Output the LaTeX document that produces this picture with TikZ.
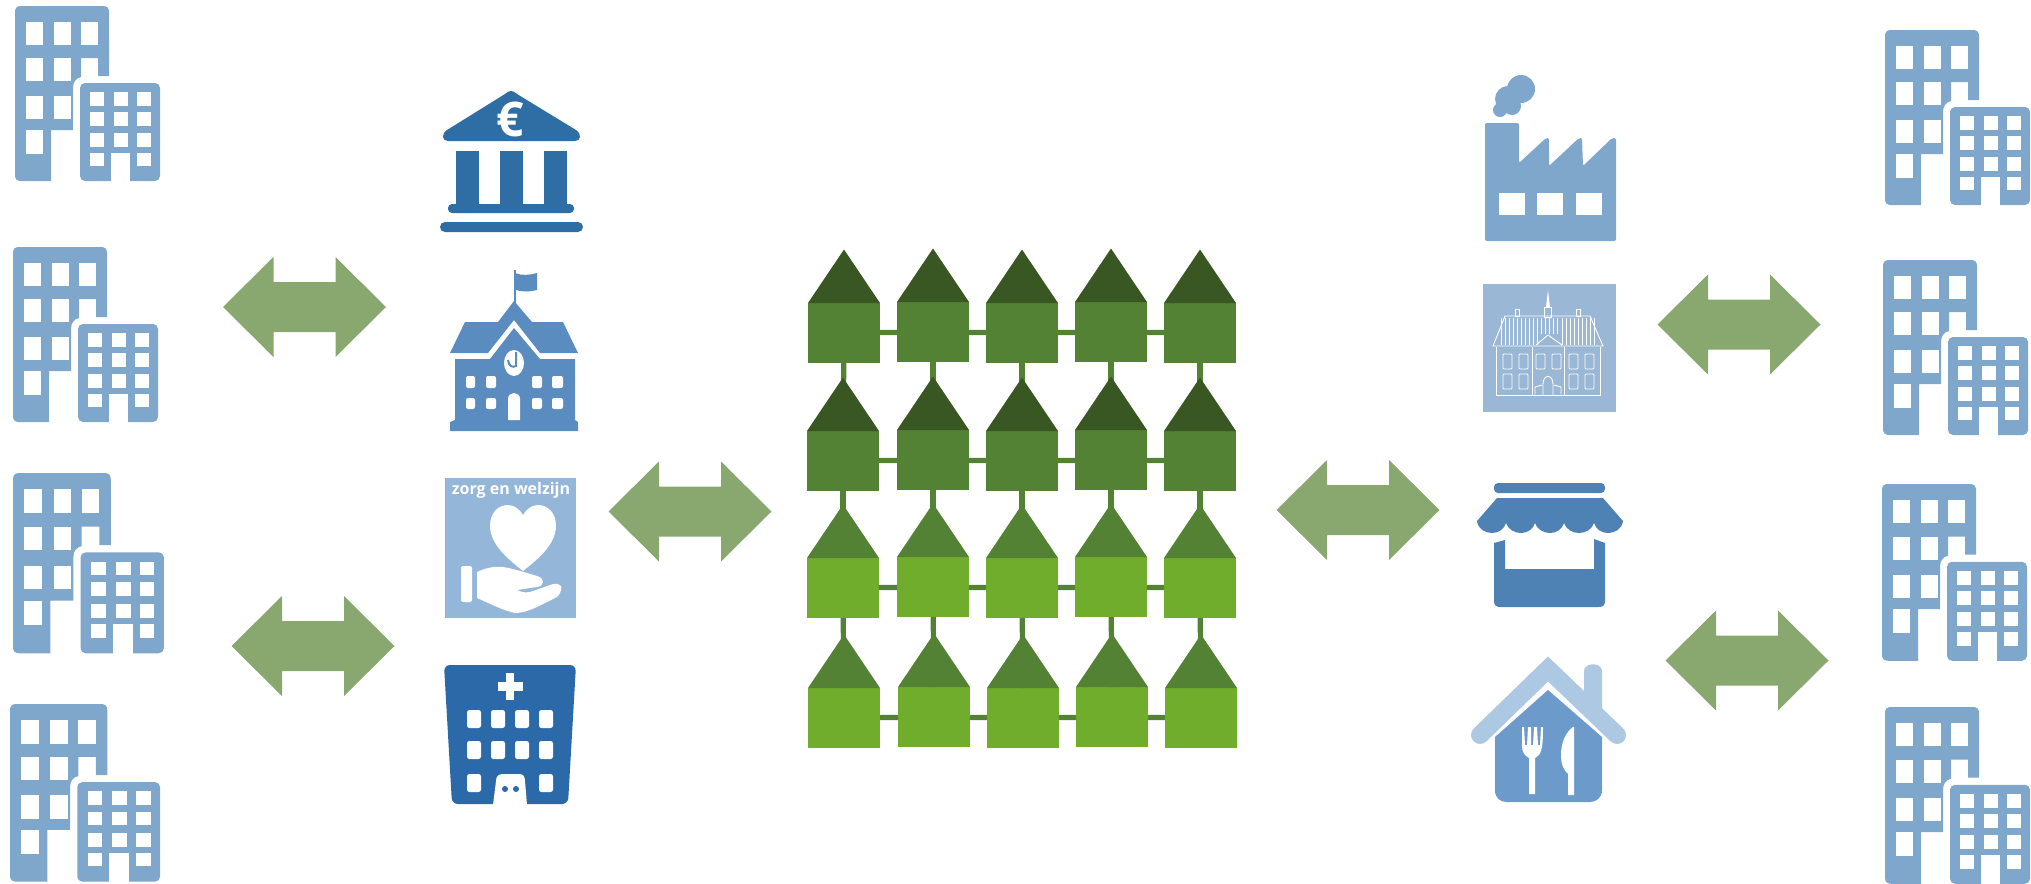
\documentclass[tikz,border=0pt]{standalone}
\usepackage{fontspec}
\setmainfont{Open Sans}
\definecolor{bldg}{HTML}{7FA6CB}
\definecolor{bank}{HTML}{2F6EA5}
\definecolor{school}{HTML}{5B8CBF}
\definecolor{zorg}{HTML}{94B6D8}
\definecolor{hosp}{HTML}{2B69A8}
\definecolor{hall}{HTML}{9AB7D5}
\definecolor{shop}{HTML}{4F82B4}
\definecolor{roofl}{HTML}{ADC8E2}
\definecolor{rest}{HTML}{6C9BCB}
\definecolor{arrowg}{HTML}{88A870}
\definecolor{bodydark}{HTML}{548235}
\definecolor{bodylight}{HTML}{71AD2D}
\definecolor{roofdark}{HTML}{385723}
\tikzset{
  bldgpic/.pic={
    \fill[bldg] (36,175) -- (6,175) .. controls (2,175) and (0,173) .. (0,169) -- (0,6)
      .. controls (0,2) and (2,0) .. (6,0) -- (88,0) .. controls (92,0) and (94,2) .. (94,6)
      -- (94,70) -- (83,70) -- (83,52) -- (66,52) -- (66,71)
      .. controls (61,72) and (58,76) .. (58,82) -- (58,124) -- (36,124) -- cycle;
    \foreach \wy in {16,52,90} {\fill[white] (11,\wy) rectangle (28,\wy+23);}
    \foreach \wy in {16,52} {\fill[white] (39,\wy) rectangle (56,\wy+23);}
    \fill[white] (39,90) rectangle (56,113);
    \fill[white] (66,16) rectangle (83,39);
    \fill[white] (11,124) rectangle (28,148);
    \fill[bldg,rounded corners=2.5pt] (65,77) rectangle (145,175);
    \foreach \wx in {75,99,122} \foreach \wy in {86,106,127} {\fill[white] (\wx,\wy) rectangle (\wx+14,\wy+13.5);}
    \fill[white] (75,147) rectangle (89,160);
    \fill[white] (122,147) rectangle (136,160);
    \fill[white] (96,147) rectangle (115,176);
  },
  dbl/.pic={
    \fill[arrowg] (-81.5,0) -- (-31,-50) -- (-31,-25) -- (31,-25) -- (31,-50) -- (81.5,0)
      -- (31,50) -- (31,25) -- (-31,25) -- (-31,50) -- cycle;
  },
  hbody/.style={minimum width=36pt,minimum height=30pt,inner sep=0pt,outer sep=0pt,draw=none},
  hlink/.style={draw=bodydark,line width=2.6pt},
  hallline/.style={draw=white,line width=0.45pt},
}
\def\houses{%
h11/808/303/bodydark/roofdark,h12/897/302/bodydark/roofdark,h13/986/303/bodydark/roofdark,h14/1075/302/bodydark/roofdark,h15/1164/303/bodydark/roofdark,%
h21/807/431/bodydark/roofdark,h22/897/430/bodydark/roofdark,h23/986/431/bodydark/roofdark,h24/1075/430/bodydark/roofdark,h25/1164/431/bodydark/roofdark,%
h31/807/558/bodylight/bodydark,h32/897/557/bodylight/bodydark,h33/986/558/bodylight/bodydark,h34/1075/557/bodylight/bodydark,h35/1164/558/bodylight/bodydark,%
h41/808/688/bodylight/bodydark,h42/898/687/bodylight/bodydark,h43/987/688/bodylight/bodydark,h44/1076/687/bodylight/bodydark,h45/1165/688/bodylight/bodydark}
\begin{document}
\begin{tikzpicture}[x=0.5pt,y=-0.5pt]
\useasboundingbox (0,0) rectangle (2031,884);
% buildings
\pic at (15,6) {bldgpic};
\pic at (13,247) {bldgpic};
\pic[xscale=1.04,yscale=1.03] at (13,473) {bldgpic};
\pic[xscale=1.035,yscale=1.015] at (10,704) {bldgpic};
\pic at (1885,30) {bldgpic};
\pic at (1883,260) {bldgpic};
\pic[yscale=1.01] at (1882,484) {bldgpic};
\pic[yscale=1.01] at (1885,707) {bldgpic};
% arrows
\pic at (304.5,307) {dbl};
\pic at (313,646) {dbl};
\pic at (690,511.5) {dbl};
\pic at (1358,510) {dbl};
\pic at (1739,324.5) {dbl};
\pic at (1747,660.5) {dbl};
% houses
\foreach \n/\hx/\hy/\bd/\rf in \houses {
  \node[hbody,fill=\bd] (\n) at (\hx+36,\hy+30) {};
}
\foreach \rw in {1,2,3,4} \foreach \ca/\cb in {1/2,2/3,3/4,4/5} {
  \draw[hlink] (h\rw\ca) -- (h\rw\cb);
}
\foreach \cl in {1,2,3,4,5} \foreach \ra/\rb in {1/2,2/3,3/4} {
  \draw[hlink] (h\ra\cl) -- (h\rb\cl);
}
\foreach \n/\hx/\hy/\bd/\rf in \houses {
  \fill[\rf] (\hx,\hy) -- (\hx+72,\hy) -- (\hx+36,\hy-53.5) -- cycle;
}
% bank
\fill[bank] (511,91) .. controls (513,91) and (515,92) .. (517,94) -- (576,130)
  .. controls (582,134) and (581,141) .. (575,141) -- (448,141)
  .. controls (442,141) and (441,134) .. (447,130) -- (505,94) .. controls (507,92) and (509,91) .. (511,91) -- cycle;
\node[text=white,font=\bfseries\fontsize{24pt}{24pt}\selectfont,inner sep=0pt] (euro) at (510,119) {€};
\foreach \cx in {456,500,544} {\fill[bank] (\cx,151) rectangle (\cx+23,206);}
\fill[bank,rounded corners=2pt] (448,204) rectangle (574,213);
\fill[bank,rounded corners=2.5pt] (440,222) rectangle (583,232);
% school
\draw[school,line width=1.4pt] (515,270) -- (515,305);
\fill[school] (515,273) .. controls (522,276) and (530,275) .. (537,273) -- (537,290) .. controls (530,292) and (522,292) .. (516,290) -- cycle;
\fill[school] (514,301) -- (532,322) -- (563,322) -- (578,353) -- (540,353) -- (514,320) -- (488,353) -- (450,353) -- (465,322) -- (498,322) -- cycle;
\fill[school] (455,359) -- (490,359) -- (514,328) -- (540,359) -- (575,359) -- (575,420) -- (578,422) -- (578,431) -- (450,431) -- (450,422) -- (455,420) -- cycle;
\fill[white] (514,363) ellipse [x radius=10,y radius=13];
\draw[school,line width=1pt] (516,352) -- (516,366) .. controls (512,368) and (509,366) .. (508,360);
\foreach \wx/\ww in {466/9,486/10,532/10,552/11} {
  \fill[white,rounded corners=1pt] (\wx,376) rectangle (\wx+\ww,388);
  \fill[white,rounded corners=1pt] (\wx,398) rectangle (\wx+\ww,409);
}
\fill[white] (508,420) -- (508,399) .. controls (508,391) and (520,391) .. (520,399) -- (520,420) -- cycle;
% zorg
\fill[zorg] (445,478) rectangle (576,618);
\node[text=white,font=\bfseries\fontsize{8pt}{8pt}\selectfont,inner sep=0pt] (zorgtext) at (511,490) {zorg en welzijn};
\fill[white] (523,571) .. controls (512,562) and (490,546) .. (490,526)
  .. controls (490,512) and (499,505) .. (508,505) .. controls (515,505) and (520,510) .. (523,515)
  .. controls (526,510) and (531,505) .. (538,505) .. controls (547,505) and (556,512) .. (556,526)
  .. controls (556,546) and (534,562) .. (523,571) -- cycle;
\fill[white,rounded corners=1pt] (461,566) rectangle (472,602);
\fill[white] (477,572) .. controls (485,568) and (495,566) .. (503,567) .. controls (515,569) and (527,573) .. (537,576)
  .. controls (545,578) and (545,586) .. (537,587) -- (517,590) .. controls (523,593) and (528,593) .. (533,591)
  -- (553,584) .. controls (559,583) and (563,586) .. (561,590) .. controls (560,594) and (558,597) .. (555,598)
  -- (537,607) .. controls (528,611) and (522,613) .. (515,613) .. controls (505,611) and (495,606) .. (477,598) -- cycle;
% hospital
\fill[hosp,rounded corners=3pt] (444,665) -- (576,665) -- (568,804) -- (452,804) -- cycle;
\fill[white] (505.7,673) rectangle (514.3,700);
\fill[white] (497.5,682) rectangle (522.5,690.5);
\foreach \wx in {467,491,515,539} \foreach \wy in {710,741} {
  \fill[white,rounded corners=1.2pt] (\wx,\wy) rectangle (\wx+14,\wy+18);
}
\foreach \wx in {467,539} {\fill[white,rounded corners=1.2pt] (\wx,774) rectangle (\wx+14,792);}
\fill[white] (493,805) -- (496,781) .. controls (496,776) and (499,774) .. (503,774) -- (519,774) .. controls (523,774) and (525,776) .. (525,781) -- (527,805) -- cycle;
\fill[hosp] (505,789) circle [radius=3] (516,789) circle [radius=3];
% factory
\fill[bldg] (1521,89) circle [radius=14] (1508,99) circle [radius=13] (1500,110) circle [radius=7] (1512,106) circle [radius=9];
\fill[bldg,rounded corners=1pt] (1485,241) -- (1485,123) -- (1519,123) -- (1519,163) -- (1546,138) -- (1549,138) -- (1549,166) -- (1579,138) -- (1582,138) -- (1583,166) -- (1612,138) -- (1616,138) -- (1616,241) -- cycle;
\foreach \wx in {1499,1537,1576} {\fill[white] (\wx,193) rectangle (\wx+26,215);}
% town hall
\fill[hall] (1483,284) rectangle (1616,412);
\draw[hallline] (1493,346) -- (1603,346) -- (1590,316) -- (1505,316) -- cycle;
\draw[hallline] (1496,347) -- (1496,395) -- (1600,395) -- (1600,347);
\foreach \sx in {1501,1505,...,1537,1562,1566,...,1596} {\draw[hallline,line width=0.3pt] (\sx,318) -- (\sx,345);}
\foreach \sx in {1541,1545,...,1558} {\draw[hallline,line width=0.3pt] (\sx,318) -- (\sx,334);}
\draw[hallline] (1536,345) -- (1548,335) -- (1562,345);
\draw[hallline] (1544,317) rectangle (1551,307);
\fill[white] (1546,307) -- (1548,290) -- (1550,307) -- cycle;
\draw[hallline] (1515,316) rectangle (1519,309);
\draw[hallline] (1576,316) rectangle (1580,309);
\draw[hallline] (1532,347) -- (1532,395) (1564,347) -- (1564,395);
\foreach \wx in {1503,1519,1536,1552,1569,1585} {\draw[hallline,rounded corners=0.5pt] (\wx,354) rectangle (\wx+9,369);}
\foreach \wx in {1503,1519,1569,1585} {\draw[hallline,rounded corners=0.5pt] (\wx,374) rectangle (\wx+9,389);}
\draw[hallline] (1543,395) -- (1543,384) .. controls (1543,374) and (1553,374) .. (1553,384) -- (1553,395);
\draw[hallline] (1535,394) -- (1535,387) -- (1542,385) (1561,394) -- (1561,387) -- (1554,385);
% shop
\fill[shop,rounded corners=2pt] (1494,483) rectangle (1605,493);
\fill[shop] (1497,498) -- (1603,498) -- (1623,521) .. controls (1622,529) and (1615,533) .. (1608,533)
  .. controls (1601,533) and (1596,529) .. (1594,523) .. controls (1592,529) and (1586,533) .. (1579,533)
  .. controls (1572,533) and (1566,529) .. (1564,523) .. controls (1562,529) and (1557,533) .. (1550,533)
  .. controls (1543,533) and (1537,529) .. (1535,523) .. controls (1533,529) and (1528,533) .. (1521,533)
  .. controls (1514,533) and (1508,529) .. (1506,523) .. controls (1504,529) and (1499,533) .. (1492,533)
  .. controls (1485,533) and (1478,529) .. (1477,521) -- cycle;
\fill[shop] (1494,601) -- (1494,543) -- (1505,540) -- (1505,569) -- (1594,569) -- (1594,539) -- (1605,543) -- (1605,601)
  .. controls (1605,605) and (1603,607) .. (1599,607) -- (1500,607) .. controls (1496,607) and (1494,605) .. (1494,601) -- cycle;
% restaurant
\fill[roofl] (1584,700) -- (1584,671) .. controls (1584,662) and (1602,662) .. (1602,671) -- (1602,717) -- cycle;
\draw[roofl,line width=9pt,line cap=round] (1480,735) -- (1548,669) -- (1617,735);
\fill[rest] (1495,737) -- (1548,690) -- (1602,737) -- (1602,790) .. controls (1602,798) and (1596,802) .. (1590,802)
  -- (1507,802) .. controls (1500,802) and (1495,798) .. (1495,790) -- cycle;
\fill[white] (1529,794) -- (1529,758) .. controls (1524,755) and (1522,752) .. (1522,745) -- (1522,727) -- (1524,727) -- (1525,745) -- (1527,745) -- (1528,727) -- (1531,727) -- (1531,745) -- (1533,745) -- (1534,727) -- (1537,727) -- (1538,745) -- (1540,745) -- (1541,727) -- (1543,727) .. controls (1543,750) and (1541,755) .. (1535,758) -- (1535,794) -- cycle;
\fill[white] (1568,795) -- (1568,774) .. controls (1564,770) and (1561,765) .. (1561,755) .. controls (1561,742) and (1566,732) .. (1573,727) -- (1574,727) -- (1574,795) -- cycle;
\end{tikzpicture}
\end{document}
